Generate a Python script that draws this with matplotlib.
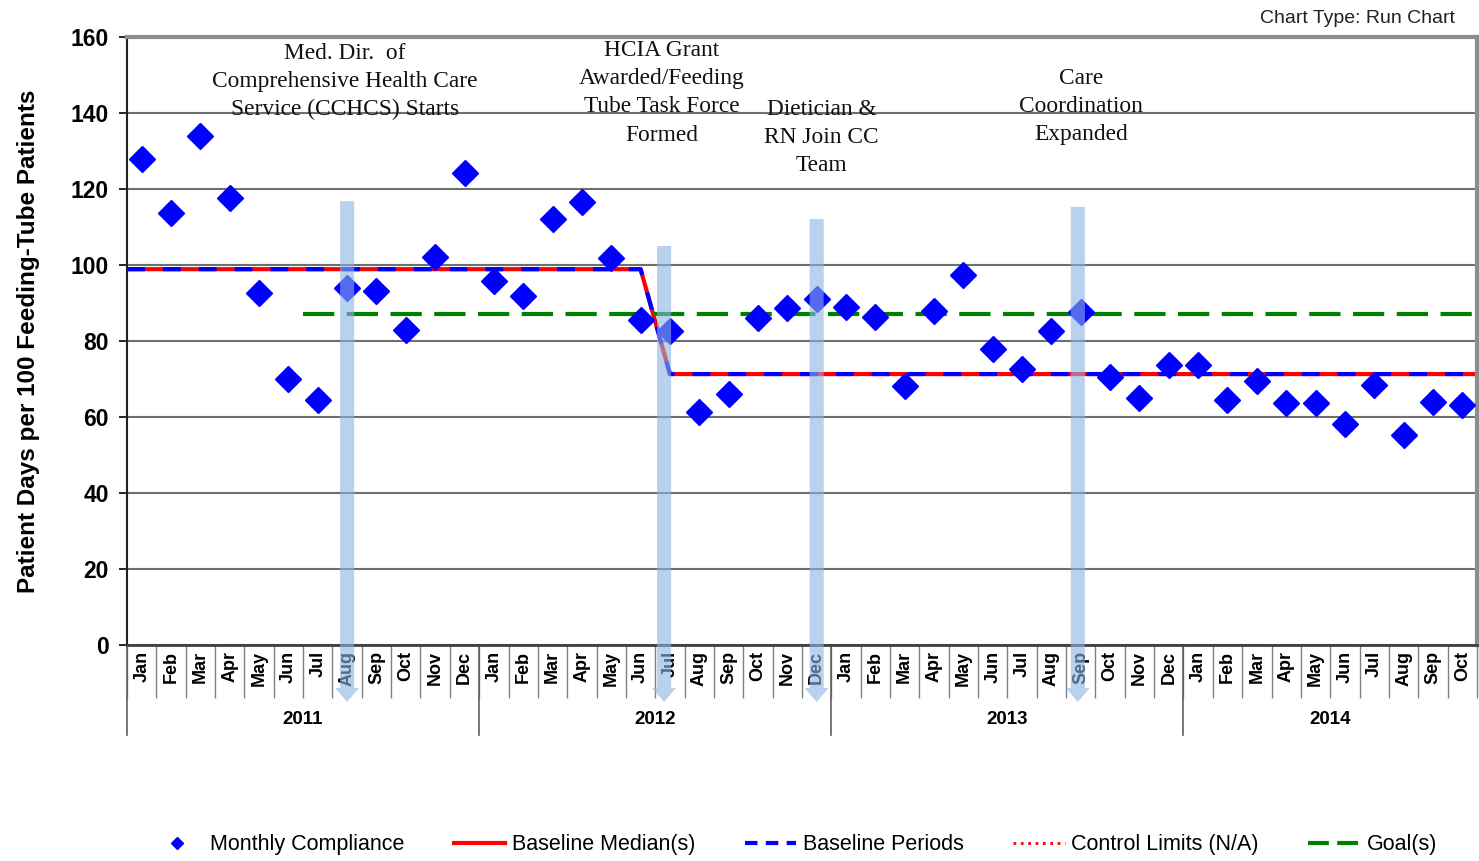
import matplotlib
matplotlib.use("Agg")
import matplotlib.pyplot as plt
from matplotlib.lines import Line2D
from matplotlib.patches import FancyArrow
import numpy as np

months = ["Jan", "Feb", "Mar", "Apr", "May", "Jun", "Jul", "Aug", "Sep", "Oct", "Nov", "Dec"] * 3 + \
         ["Jan", "Feb", "Mar", "Apr", "May", "Jun", "Jul", "Aug", "Sep", "Oct"]
years = ["2011", "2012", "2013", "2014"]
year_sizes = [12, 12, 12, 10]

compliance = [128, 113.7, 134, 117.6, 92.6, 70, 64.5, 94, 93.2, 82.9, 102, 124.2,
              95.8, 91.8, 112.1, 116.6, 101.8, 85.5, 82.6, 61.3, 66, 86, 88.7, 91,
              88.9, 86.3, 68.2, 87.9, 97.4, 77.9, 72.6, 82.6, 87.6, 70.5, 65, 73.7,
              73.7, 64.5, 69.5, 63.7, 63.7, 58.2, 68.4, 55.3, 64, 63.2]

# baseline medians: first period Jan 2011 - Jun 2012, second from Jul 2012
median_x = [-0.5, 17, 18, 45.5]
median_y = [98.9, 98.9, 71.3, 71.3]
goal_x = [5.5, 45.5]
goal_y = [87.1, 87.1]

# interventions: month index, arrow top value, label
event_idx = [7, 17.8, 23, 31.9]
event_top = [116.8, 105, 112.1, 115.3]
event_text = ["Med. Dir.  of\nComprehensive Health Care\nService (CCHCS) Starts",
              "HCIA Grant\nAwarded/Feeding\nTube Task Force\nFormed",
              "Dietician &\nRN Join CC\nTeam",
              "Care\nCoordination\nExpanded"]
text_pos = [(6.92, 148.3), (17.72, 145.3), (23.17, 133.6), (32.0, 141.7)]
arrow_end = -15

plt.rcParams["font.family"] = ["Liberation Sans", "DejaVu Sans"]

fig = plt.figure(figsize=(14.79, 8.61), dpi=100)
ax = fig.add_axes([0.0859, 0.2509, 0.9127, 0.7061])

n = len(compliance)
x = np.arange(n)

ax.set_xlim(-0.5, n - 0.5)
ax.set_ylim(0, 160)
ax.set_yticks(np.arange(0, 161, 20))
ax.grid(axis="y", color="#6f6f6f", lw=1.5, zorder=0)

ax.plot(median_x, median_y, color="#ff0000", lw=3, zorder=2, solid_capstyle="butt")
ax.plot(median_x, median_y, color="#0000ff", lw=3, dashes=(4.3, 4.3), zorder=3)
ax.plot(goal_x, goal_y, color="#008000", lw=3, dashes=(7.5, 3), zorder=3)
ax.plot(x, compliance, ls="none", marker="D", color="#0000ff", markersize=13, zorder=4)

for xi, top, txt, (tx, ty) in zip(event_idx, event_top, event_text, text_pos):
    arr = FancyArrow(xi, top, 0, arrow_end - top, width=0.48, head_width=0.82,
                     head_length=3.7, length_includes_head=True,
                     color="#8db3e2", alpha=0.6, lw=0, clip_on=False, zorder=6)
    ax.add_patch(arr)
    ax.text(tx, ty, txt, ha="center", va="center", fontsize=16.8,
            family=["Liberation Serif", "DejaVu Serif"], linespacing=1.45, color="#111111", zorder=5)

# month labels and separators
ax.set_xticks(x)
ax.set_xticklabels(months, rotation=90, fontsize=13, fontweight="bold")
ax.tick_params(axis="x", which="major", length=0, pad=4)
ax.set_xticks(np.arange(-0.5, n, 1), minor=True)
ax.tick_params(axis="x", which="minor", length=38, color="#808080", width=1)
ax.tick_params(axis="y", labelsize=16.5, length=6, width=1.2, pad=7)
for lab in ax.get_yticklabels():
    lab.set_fontweight("bold")

trans = ax.get_xaxis_transform()
start = -0.5
for yr, size in zip(years, year_sizes):
    ax.add_line(Line2D([start, start], [0, -0.148], transform=trans, color="#606060", lw=1.2, clip_on=False))
    ax.text(start + size / 2, -0.123, yr, transform=trans, ha="center", va="center",
            fontsize=13.5, fontweight="bold")
    start += size

ax.set_ylabel("Patient Days per 100 Feeding-Tube Patients", fontsize=17.5, fontweight="bold", labelpad=22)

for side in ["top", "right"]:
    ax.spines[side].set_color("#8c8c8c")
    ax.spines[side].set_linewidth(3)
ax.spines["left"].set_color("#222222")
ax.spines["left"].set_linewidth(1.5)
ax.spines["bottom"].set_color("#404040")
ax.spines["bottom"].set_linewidth(2)

fig.text(0.984, 0.979, "Chart Type: Run Chart", ha="right", va="center", fontsize=14, color="#222222")

handles = [
    Line2D([], [], ls="none", marker="D", color="#0000ff", markersize=6),
    Line2D([], [], color="#ff0000", lw=3),
    Line2D([], [], color="#0000ff", lw=3, dashes=(3, 2)),
    Line2D([], [], color="#ff0000", lw=2, ls=":"),
    Line2D([], [], color="#008000", lw=3, dashes=(5, 2)),
]
labels = ["Monthly Compliance", "Baseline Median(s)", "Baseline Periods", "Control Limits (N/A)", "Goal(s)"]
fig.legend(handles, labels, loc="center", bbox_to_anchor=(0.537, 0.0186), ncol=5, frameon=False,
           fontsize=15.5, handlelength=2.4, columnspacing=2.3, handletextpad=0.3)

fig.savefig("out.png", dpi=100)
